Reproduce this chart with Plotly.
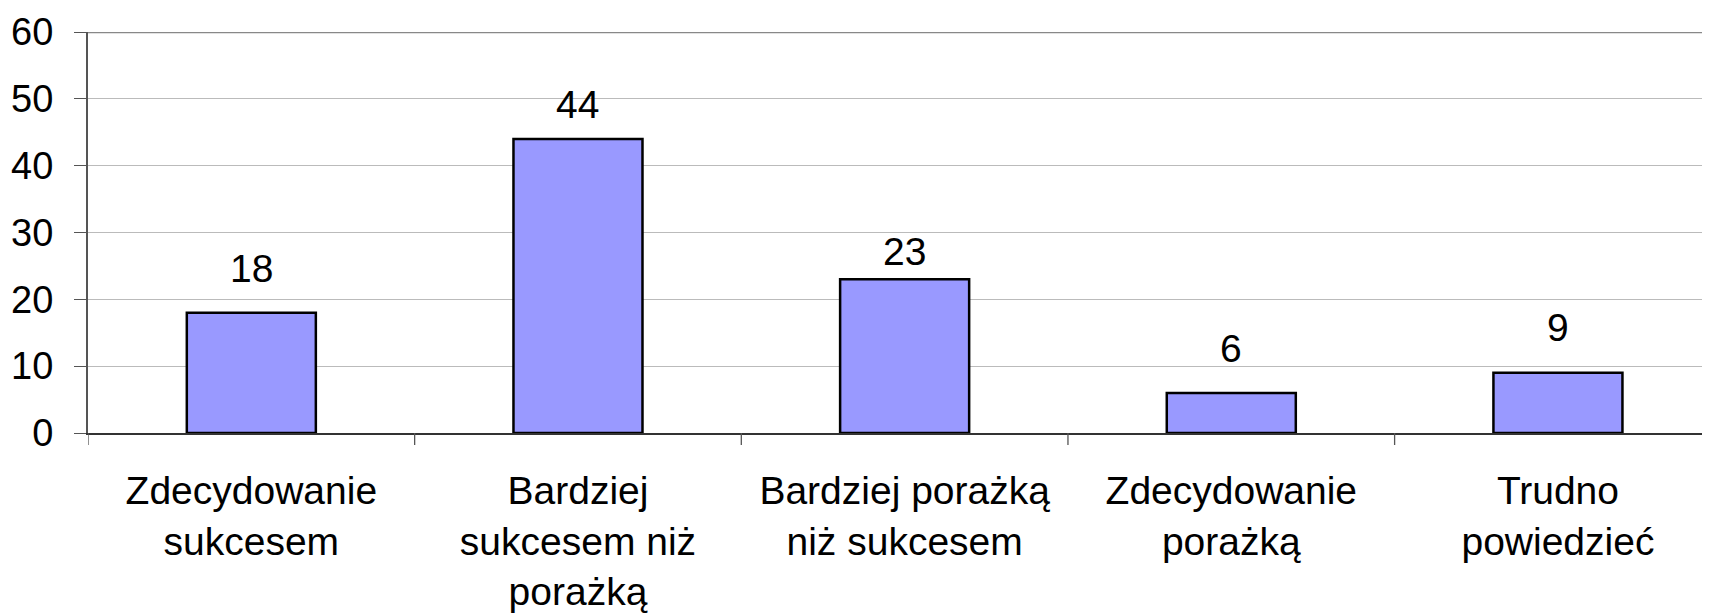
import plotly.graph_objects as go

categories = [
    "Zdecydowanie<br>sukcesem",
    "Bardziej<br>sukcesem niż<br>porażką",
    "Bardziej porażką<br>niż sukcesem",
    "Zdecydowanie<br>porażką",
    "Trudno<br>powiedzieć",
]
values = [18, 44, 23, 6, 9]
y_ticks = [0, 10, 20, 30, 40, 50, 60]

FONT = "Liberation Sans, Arial, Helvetica, sans-serif"
label_shift = [21, 11, 4, 21, 22]  # pixel offsets of value labels above bars

fig = go.Figure()
fig.add_trace(go.Bar(
    x=list(range(len(categories))),
    y=values,
    width=0.395,
    marker=dict(color="#9999FF", line=dict(color="black", width=2.5)),
    hoverinfo="skip",
))

for i, v in enumerate(values):
    fig.add_annotation(
        x=i, y=v, text=str(v), showarrow=False,
        yanchor="bottom", yshift=label_shift[i],
        font=dict(family=FONT, size=39, color="black"),
    )

fig.add_shape(type="line", xref="paper", yref="y", x0=0, x1=1, y0=60, y1=60,
              line=dict(color="#888888", width=2.5), layer="above")

fig.update_layout(
    width=1710, height=616,
    margin=dict(l=80, r=0, t=24, b=191),
    paper_bgcolor="white", plot_bgcolor="white",
    showlegend=False,
    font=dict(family=FONT, color="black"),
    xaxis=dict(
        range=[-0.5, 4.49],
        tickmode="array",
        tickvals=list(range(len(categories))),
        ticktext=categories,
        tickfont=dict(family=FONT, size=39, color="black"),
        showgrid=False,
        zeroline=False,
        showline=True, linecolor="#333333", linewidth=2,
        ticks="",
        ticklabelstandoff=22,
        automargin=False,
    ),
    yaxis=dict(
        range=[0, 60],
        tickmode="array",
        tickvals=y_ticks,
        tickfont=dict(family=FONT, size=38, color="black"),
        showgrid=True, gridcolor="#BBBBBB", gridwidth=1.3,
        zeroline=False,
        showline=True, linecolor="#555555", linewidth=2,
        ticks="outside", ticklen=12, tickcolor="#555555", tickwidth=1.3,
        ticklabelstandoff=13,
        automargin=False,
    ),
)

# category boundary ticks on the x axis
for b in [-0.5, 0.5, 1.5, 2.5, 3.5]:
    fig.add_shape(type="line", xref="x", yref="paper", x0=b, x1=b, y0=0, y1=-0.03,
                  line=dict(color="#555555", width=1.3))

fig.write_html("out.html")
